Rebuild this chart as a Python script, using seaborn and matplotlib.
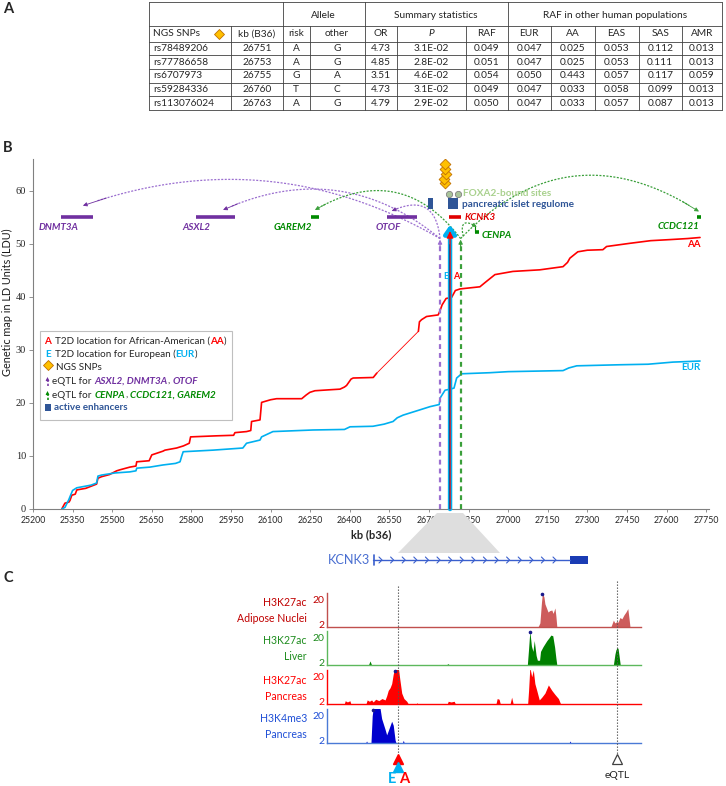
import numpy as np
import matplotlib
matplotlib.use("Agg")
import matplotlib.pyplot as plt
import seaborn as sns
from matplotlib.patches import Rectangle, Polygon

# ---------------- panel A: NGS SNP table ----------------
snp_ids = ["rs78489206", "rs77786658", "rs6707973", "rs59284336", "rs113076024"]
snp_kb = [26751, 26753, 26755, 26760, 26763]
risk_allele = ["A", "A", "G", "T", "A"]
other_allele = ["G", "G", "A", "C", "G"]
odds_ratio = ["4.73", "4.85", "3.51", "4.73", "4.79"]
p_values = ["3.1E-02", "2.8E-02", "4.6E-02", "3.1E-02", "2.9E-02"]
raf = ["0.049", "0.051", "0.054", "0.049", "0.050"]
raf_eur = ["0.047", "0.047", "0.050", "0.047", "0.047"]
raf_aa = ["0.025", "0.025", "0.443", "0.033", "0.033"]
raf_eas = ["0.053", "0.053", "0.057", "0.058", "0.057"]
raf_sas = ["0.112", "0.111", "0.117", "0.099", "0.087"]
raf_amr = ["0.013", "0.013", "0.059", "0.013", "0.013"]
col_heads = ["NGS SNPs", "kb (B36)", "risk", "other", "OR", "P", "RAF",
             "EUR", "AA", "EAS", "SAS", "AMR"]
group_heads = ["Allele", "Summary statistics", "RAF in other human populations"]

# ---------------- panel B: genetic maps (kb, LDU) ----------------
aa_kb = [25309, 25321, 25336, 25340, 25347, 25360, 25366, 25400, 25441, 25446,
         25460, 25490, 25517, 25530, 25567, 25590, 25593, 25640, 25650, 25692,
         25700, 25744, 25770, 25792, 25797, 25896, 25960, 25965, 26009, 26025,
         26028, 26060, 26066, 26100, 26123, 26218, 26235, 26249, 26268, 26330,
         26363, 26380, 26388, 26405, 26413, 26489, 26502, 26660, 26664, 26672,
         26691, 26735, 26742, 26750, 26765, 26786, 26800, 26818, 26893, 26915,
         26945, 26950, 27018, 27120, 27208, 27225, 27234, 27264, 27300, 27359,
         27373, 27461, 27540, 27613, 27680, 27727]
aa_ldu = [0.0, 1.1, 1.3, 1.6, 2.6, 2.8, 3.6, 3.9, 4.7, 5.8,
          6.1, 6.5, 7.2, 7.4, 7.9, 8.1, 8.9, 9.1, 10.2, 10.9,
          11.1, 11.5, 11.9, 12.4, 13.6, 13.8, 13.9, 14.4, 14.6, 14.8,
          16.5, 16.8, 20.1, 20.6, 20.8, 20.8, 21.5, 22.0, 22.3, 22.5,
          22.6, 23.0, 23.3, 24.5, 24.7, 24.8, 25.6, 33.5, 35.3, 35.7,
          36.3, 36.6, 37.4, 38.5, 39.7, 39.9, 41.2, 41.5, 41.9, 42.8,
          44.0, 44.2, 44.8, 45.1, 45.7, 46.5, 47.3, 48.5, 48.8, 48.9,
          49.5, 50.1, 50.6, 50.8, 51.0, 51.2]
aa_gap = (26502, 26660)  # sparse stretch drawn as a thin line
eur_kb = [25309, 25321, 25336, 25340, 25350, 25366, 25420, 25441, 25446, 25460,
          25511, 25567, 25590, 25593, 25643, 25692, 25740, 25757, 25763, 25769,
          25882, 25995, 26009, 26060, 26066, 26109, 26261, 26380, 26401, 26488,
          26530, 26564, 26580, 26602, 26666, 26704, 26739, 26742, 26761, 26780,
          26795, 26805, 26824, 26931, 27000, 27208, 27230, 27260, 27423, 27530,
          27624, 27727]
eur_ldu = [0.0, 0.3, 1.8, 2.3, 3.5, 4.0, 4.5, 4.9, 6.2, 6.4,
           6.8, 7.0, 7.2, 7.7, 7.9, 8.3, 8.6, 8.9, 9.9, 10.8,
           11.1, 11.5, 12.4, 13.0, 13.6, 14.6, 14.9, 15.0, 15.5, 15.6,
           16.0, 16.5, 17.2, 17.7, 18.7, 19.3, 19.7, 20.9, 22.4, 22.6,
           22.8, 24.7, 25.5, 25.7, 25.9, 26.1, 26.6, 27.0, 27.2, 27.3,
           27.7, 27.9]

gene_names = ["DNMT3A", "ASXL2", "GAREM2", "OTOF", "KCNK3", "CENPA", "CCDC121"]
gene_start = [25306, 25817, 26253, 26541, 26776, 26874, 27716]
gene_end = [25426, 25965, 26282, 26653, 26821, 26890, 27730]
gene_ldu = [55.0, 55.0, 55.0, 55.0, 55.0, 52.3, 55.0]
gene_group = ["purple", "purple", "green", "purple", "red", "green", "green"]

t2d_kb = 26780
eqtl_kb = {"purple": 26742, "green": 26820}
eqtl_top_ldu = 50.8
eqtl_targets = ["DNMT3A", "ASXL2", "OTOF", "GAREM2", "CCDC121", "CENPA"]
eqtl_target_kb = [25389, 25920, 26559, 26268, 27723, 26881]
eqtl_target_ldu = [57.2, 56.4, 56.2, 56.4, 56.1, 53.2]

enhancer_start = [26697, 26771]
enhancer_end = [26714, 26811]
enhancer_lo = [56.6, 56.5]
enhancer_hi = [58.7, 58.7]
foxa2_kb = [26776, 26809]
foxa2_ldu = 59.4
diamond_ldu = [61.4, 62.2, 63.1, 64.1, 65.0]

# ---------------- panel C: ChIP-seq tracks (relative position 0-100) ----------------
adipose_u = [0, 66.8, 67.3, 67.8, 68.3, 68.6, 69.1, 69.4, 69.9, 70.4, 70.9, 71.6, 72.0,
             72.6, 72.9, 73.2, 90.4, 91.2, 91.7, 92.3, 92.7, 93.3, 93.9, 94.6, 95.2,
             95.8, 96.2, 96.5, 100]
adipose_val = [0, 0, 0.5, 3, 18, 25, 22, 17, 14, 11, 12, 12.5, 10,
               14, 8, 0, 0, 5, 3, 4, 3.5, 7, 6, 9, 11,
               13.5, 6, 0, 0]
liver_u = [0, 13.2, 13.7, 14.2, 38.0, 38.5, 39.0, 63.8, 64.2, 64.6, 65.1, 65.6, 66.0,
           66.6, 67.0, 67.7, 68.0, 68.8, 69.4, 70.0, 70.7, 71.3, 71.9, 72.5, 72.9,
           73.2, 91.2, 91.7, 92.0, 92.4, 92.7, 93.0, 93.4, 100]
liver_val = [0, 0, 3, 0, 0, 1, 0, 0, 12, 25, 14, 10, 18,
             7, 3.5, 3.5, 10, 13.5, 15.7, 17.9, 20, 22, 21.5, 13, 5,
             0, 0, 8, 11, 13, 12, 7, 0, 0]
pancreas_u = [0, 5.5, 5.8, 6.5, 7.3, 7.6, 12.4, 12.8, 13.5, 14.2, 14.7, 15.5, 16.5,
              17.5, 18.5, 19.0, 19.5, 20.1, 20.6, 21.1, 21.7, 22.7, 23.2, 23.8, 24.5,
              25.4, 25.9, 28.4, 28.6, 28.9, 38.3, 38.6, 39.5, 40.5, 40.9, 53.8, 54.2,
              54.8, 55.2, 58.3, 58.8, 59.3, 63.9, 64.2, 64.6, 65.2, 65.7, 66.2, 66.8,
              67.6, 68.4, 69.4, 70.5, 71.6, 72.6, 73.7, 74.4, 100]
pancreas_val = [0, 0, 2.4, 1.5, 2.4, 0, 0, 3, 2, 3, 1.5, 3.5, 2.5,
                4, 3, 6, 10, 12, 15, 22, 27, 27, 18, 8, 4,
                2, 0, 0, 1, 0, 0, 2, 1.5, 2, 0, 0, 4,
                3.5, 0, 0, 5, 0, 0, 10, 27, 20, 25, 15, 10,
                3, 5, 8, 14, 10, 7, 4, 0, 0]
h3k4_u = [0, 12.3, 12.6, 12.9, 14.0, 14.4, 14.7, 16.9, 17.4, 18.5, 19.0, 19.5, 20.6,
          21.1, 21.7, 22.0, 24.0, 24.3, 24.6, 77.1, 77.4, 77.7, 100]
h3k4_val = [0, 0, 1.5, 0, 0, 20, 25.5, 25.5, 18, 10, 6, 9, 16,
            13, 2, 0, 0, 2, 0, 0, 1.5, 0, 0]
t2d_u = 22.5
eqtl_u = 92.3

# ---------------- figure ----------------
sns.set_theme(style="ticks")
plt.rcParams["font.family"] = ["Lato", "DejaVu Sans"]

W, H = 726, 786
fig = plt.figure(figsize=(W / 100, H / 100), dpi=100)
fig.patch.set_facecolor("white")


def box(x0, y0, x1, y1):
    return [x0 / W, 1 - y1 / H, (x1 - x0) / W, (y1 - y0) / H]


RED, LBLUE = "#ff0000", "#00b0f0"
PURPLE, PURPLE_L = "#7030a0", "#9b6fd0"
GREEN, GREEN_L = "#008a00", "#3a9f3a"
NAVY = "#2f5597"
col = {"purple": PURPLE, "green": GREEN, "red": "#e00000"}

# ----- panel B -----
axB = fig.add_axes(box(33, 159, 709, 509))
axB.patch.set_alpha(0)
axB.set_xlim(25200, 27761)
axB.set_ylim(0, 66)

i0 = aa_kb.index(aa_gap[0])
i1 = aa_kb.index(aa_gap[1])
sns.lineplot(x=aa_kb[:i0 + 1], y=aa_ldu[:i0 + 1], sort=False, estimator=None,
             color=RED, lw=1.2, ax=axB)
sns.lineplot(x=aa_kb[i0:i1 + 1], y=aa_ldu[i0:i1 + 1], sort=False, estimator=None,
             color=RED, lw=0.6, ax=axB)
sns.lineplot(x=aa_kb[i1:], y=aa_ldu[i1:], sort=False, estimator=None,
             color=RED, lw=1.2, ax=axB)
sns.lineplot(x=eur_kb, y=eur_ldu, sort=False, estimator=None, color=LBLUE, lw=1.2, ax=axB)

axB.set_xticks(np.arange(25200, 27751, 150))
axB.set_yticks(np.arange(0, 61, 10))
axB.tick_params(axis="x", labelsize=6.3, length=2, width=0.6, color="#808080", pad=3)
axB.tick_params(axis="y", labelsize=7.5, length=3, width=0.6, color="#808080", pad=2)
for lab in axB.get_yticklabels():
    lab.set_fontfamily("Liberation Serif")
sns.despine(ax=axB)
for s in ["left", "bottom"]:
    axB.spines[s].set_color("#808080")
    axB.spines[s].set_linewidth(0.8)
axB.set_xlabel("kb (b36)", fontsize=8, fontweight="bold", labelpad=3)
axB.set_ylabel("Genetic map in LD Units (LDU)", fontsize=7.8, color="#1a1a1a")
axB.yaxis.set_label_coords(-0.03, 0.59)

# eQTL dashed verticals
for grp, c in [("purple", PURPLE_L), ("green", GREEN_L)]:
    axB.plot([eqtl_kb[grp]] * 2, [0, eqtl_top_ldu - 1], color=c, lw=1.6,
             ls=(0, (2.2, 1.8)), zorder=4)
    axB.annotate("", xy=(eqtl_kb[grp], eqtl_top_ldu), xytext=(eqtl_kb[grp], eqtl_top_ldu - 1.5),
                 arrowprops=dict(arrowstyle="-|>", color=c, lw=0.8, mutation_scale=6,
                                 shrinkA=0, shrinkB=0), zorder=4)

# T2D location arrow
axB.annotate("", xy=(t2d_kb, 53.6), xytext=(t2d_kb, 0),
             arrowprops=dict(arrowstyle="-|>,head_length=0.5,head_width=0.35", color=LBLUE,
                             lw=3.2, mutation_scale=10, shrinkA=0, shrinkB=0), zorder=5)
axB.annotate("", xy=(t2d_kb, 52.4), xytext=(t2d_kb, 0),
             arrowprops=dict(arrowstyle="-|>,head_length=0.4,head_width=0.2", color=RED,
                             lw=0.9, mutation_scale=10, shrinkA=0, shrinkB=0), zorder=6)
axB.plot([t2d_kb - 3] * 2, [0, 50], color="#1f3a7a", lw=0.5, zorder=6)
axB.text(t2d_kb - 8, 43.8, "E", color=LBLUE, fontsize=6.5, fontweight="bold",
         ha="right", va="center", zorder=7)
axB.text(t2d_kb + 12, 43.8, "A", color=RED, fontsize=6.5, fontweight="bold",
         ha="left", va="center", zorder=7)
axB.text(27705, 49.8, "AA", color=RED, fontsize=7, fontweight="bold", ha="center", va="center")
axB.text(27693, 26.6, "EUR", color=LBLUE, fontsize=7, fontweight="bold", ha="center", va="center")

# genes
label_layout = {
    "DNMT3A": (25297, -1.9, "center"), "ASXL2": (25819, -1.9, "center"),
    "GAREM2": (26185, -1.9, "center"), "OTOF": (26545, -1.9, "center"),
    "KCNK3": (26835, 0, "left"), "CENPA": (26900, -0.7, "left"),
    "CCDC121": (27647, -1.8, "center"),
}
for name, x0, x1, y, grp in zip(gene_names, gene_start, gene_end, gene_ldu, gene_group):
    axB.plot([x0, x1], [y, y], color=col[grp], lw=2.6, solid_capstyle="butt", zorder=4)
    lx, dy, ha = label_layout[name]
    axB.text(lx, y + dy, name, color=col[grp], fontsize=7, fontweight="bold",
             fontstyle="italic", ha=ha, va="center", zorder=4)
axB.plot([26874, 26874], [52.3, 53.4], color=GREEN, lw=0.8)

# eQTL arcs
arc_rad = {"DNMT3A": 0.23, "ASXL2": 0.31, "OTOF": 0.7, "GAREM2": 0.44,
           "CCDC121": 0.41, "CENPA": 1.2}
fig.canvas.draw()
for name, tx, ty in zip(eqtl_targets, eqtl_target_kb, eqtl_target_ldu):
    grp = gene_group[gene_names.index(name)]
    c = PURPLE_L if grp == "purple" else GREEN_L
    x0 = eqtl_kb[grp]
    y0 = eqtl_top_ldu + (0.2 if name != "CENPA" else 0.6)
    if name == "CENPA":
        x0 += 10
    p0 = axB.transData.transform((x0, y0))
    p1 = axB.transData.transform((tx, ty))
    d = p1 - p0
    perp = np.array([-d[1], d[0]])
    if perp[1] < 0:
        perp = -perp
    ctrl = (p0 + p1) / 2 + arc_rad[name] * perp
    t = np.linspace(0, 1, 80)[:, None]
    pts = (1 - t) ** 2 * p0 + 2 * (1 - t) * t * ctrl + t ** 2 * p1
    dat = axB.transData.inverted().transform(pts)
    axB.plot(dat[:-3, 0], dat[:-3, 1], color=c, lw=0.9, ls=(0, (1.6, 1.2)), zorder=3)
    axB.annotate("", xy=dat[-1], xytext=dat[-6],
                 arrowprops=dict(arrowstyle="-|>", color=c if grp == "green" else PURPLE,
                                 lw=0.6, mutation_scale=6, shrinkA=0, shrinkB=0), zorder=3)

# regulatory elements
for x0, x1, lo, hi in zip(enhancer_start, enhancer_end, enhancer_lo, enhancer_hi):
    axB.add_patch(Rectangle((x0, lo), x1 - x0, hi - lo, color=NAVY, zorder=4, lw=0))
axB.plot(foxa2_kb, [foxa2_ldu] * 2, "o", ms=4.5, mfc="#a9c49a", mec="#808080", mew=0.6, zorder=5)
axB.text(26828, foxa2_ldu, "FOXA2-bound sites", color="#a9d18e", fontsize=7.2,
         fontweight="bold", ha="left", va="center")
axB.text(26824, 57.4, "pancreatic islet regulome", color=NAVY, fontsize=7.2,
         fontweight="bold", ha="left", va="center")
sns.scatterplot(x=[snp_kb[0] + 8, snp_kb[1] + 4, snp_kb[2] + 8, snp_kb[3], snp_kb[4] - 4],
                y=diamond_ldu, marker="D", s=30, color="#ffc000", edgecolor="#c07000",
                linewidth=0.6, ax=axB, zorder=6, legend=False)

# ----- overlay in figure pixels -----
ov = fig.add_axes([0, 0, 1, 1])
ov.set_xlim(0, W)
ov.set_ylim(H, 0)
ov.axis("off")
ov.patch.set_alpha(0)

for letter, y in [("A", 9), ("B", 148), ("C", 578)]:
    ov.text(3, y, letter, fontsize=10.5, fontweight="bold", va="center", ha="left")

# table
edges = [149, 231, 283, 309.5, 364.5, 397, 465.5, 507.5, 551, 594.5, 638.5, 682, 722]
y_top, y_h1, y_h2, y_bot = 2, 26, 41.5, 110
row_h = (y_bot - y_h2) / len(snp_ids)
lc = dict(color="#404040", lw=0.6)
for y in [y_top, y_h1, y_h2] + [y_h2 + row_h * i for i in range(1, 6)]:
    ov.plot([edges[0], edges[-1]], [y, y], **lc)
full_cols = {0, 2, 4, 7, 12}
for i, x in enumerate(edges):
    ov.plot([x, x], [y_top if i in full_cols else y_h1, y_bot], **lc)
tfs = 7.3
for (a, b), g in zip([(2, 4), (4, 7), (7, 12)], group_heads):
    ov.text((edges[a] + edges[b]) / 2, (y_top + y_h1) / 2 + 1, g, fontsize=tfs,
            ha="center", va="center", color="#222222")
yh = (y_h1 + y_h2) / 2
for i, hname in enumerate(col_heads):
    if i == 0:
        ov.text(edges[0] + 4, yh, hname, fontsize=tfs, ha="left", va="center")
        ov.plot([219], [yh], "D", ms=5.5, mfc="#ffc000", mec="#c07000", mew=0.6)
    else:
        ov.text((edges[i] + edges[i + 1]) / 2, yh, hname, fontsize=tfs, ha="center",
                va="center", fontstyle="italic" if hname == "P" else "normal")
cols = [snp_ids, [str(k) for k in snp_kb], risk_allele, other_allele, odds_ratio,
        p_values, raf, raf_eur, raf_aa, raf_eas, raf_sas, raf_amr]
for r in range(len(snp_ids)):
    yc = y_h2 + row_h * (r + 0.5)
    for i, values in enumerate(cols):
        if i == 0:
            ov.text(edges[0] + 4, yc, values[r], fontsize=tfs, ha="left", va="center")
        else:
            ov.text((edges[i] + edges[i + 1]) / 2, yc, values[r], fontsize=tfs,
                    ha="center", va="center")

# legend box in panel B
ov.add_patch(Rectangle((40, 331), 192, 89, fc="white", ec="#bfbfbf", lw=0.8))
renderer = fig.canvas.get_renderer()
lfs = 7.1


def rich(x, y, pieces):
    for s, kw, gap in pieces:
        t = ov.text(x, y, s, fontsize=lfs, va="center", ha="left", **kw)
        x += t.get_window_extent(renderer).width + gap


bi = dict(fontweight="bold", fontstyle="italic")
rich(44.5, 341.5, [("A", dict(color=RED, fontweight="bold"), 3.5),
                   ("T2D location for African-American (", {}, 0),
                   ("AA", dict(color=RED, fontweight="bold"), 0), (")", {}, 0)])
rich(45, 354.5, [("E", dict(color=LBLUE, fontweight="bold"), 4),
                 ("T2D location for European (", {}, 0),
                 ("EUR", dict(color=LBLUE, fontweight="bold"), 0), (")", {}, 0)])
ov.plot([47.5], [364.5], "D", ms=5.2, mfc="#ffc000", mec="#c07000", mew=0.6)
rich(56, 368, [("NGS SNPs", {}, 0)])
for y, c in [(381, PURPLE), (395, GREEN)]:
    ov.plot([47.5, 47.5], [y + 5, y], color=c, lw=1.1, ls=(0, (1.5, 1.2)))
    ov.annotate("", xy=(47.5, y - 4), xytext=(47.5, y),
                arrowprops=dict(arrowstyle="-|>", color=c, lw=0.6, mutation_scale=5,
                                shrinkA=0, shrinkB=0))
rich(52, 381.5, [("eQTL for", {}, 3), ("ASXL2, DNMT3A", dict(color=PURPLE, **bi), 0),
                 (",", {}, 3), ("OTOF", dict(color=PURPLE, **bi), 0)])
rich(52, 395, [("eQTL for", {}, 3), ("CENPA", dict(color=GREEN, **bi), 0),
               (",", {}, 3), ("CCDC121, GAREM2", dict(color=GREEN, **bi), 0)])
ov.add_patch(Rectangle((44.5, 404), 6.5, 6.5, color=NAVY, lw=0))
rich(53.5, 407.5, [("active enhancers", dict(color=NAVY, fontweight="bold"), 0)])

# zoom trapezoid and KCNK3 gene model
ov.add_patch(Polygon([(437, 513), (463, 513), (500, 553), (398, 553)],
                     closed=True, fc="#dedede", ec="none", zorder=1))
gene_y = 560
ov.text(370, gene_y, "KCNK3", color="#4a6fd1", fontsize=9.2, ha="right", va="center")
ov.plot([373, 570], [gene_y, gene_y], color="#3a5fcd", lw=1)
ov.plot([373.5, 373.5], [gene_y - 5, gene_y + 5], color="#3a5fcd", lw=1.2)
for cx in np.arange(381, 566, 11.6):
    ov.plot([cx - 2, cx + 1, cx - 2], [gene_y - 3, gene_y, gene_y + 3], color="#3a5fcd", lw=0.8)
ov.add_patch(Rectangle((570, gene_y - 4), 18, 8, color="#1a3cb4", lw=0))

# ----- panel C tracks -----
tracks = [
    ("H3K27ac", "Adipose Nuclei", adipose_u, adipose_val, 627, "#cd5c5c", "#c0504d", "#c00000"),
    ("H3K27ac", "Liver", liver_u, liver_val, 665, "#008000", "#5cb85c", "#1e8c1e"),
    ("H3K27ac", "Pancreas", pancreas_u, pancreas_val, 704, "#ff0000", "#ff0000", "#ff0000"),
    ("H3K4me3", "Pancreas", h3k4_u, h3k4_val, 743, "#0000cd", "#4a7ad6", "#1f4fd6"),
]
for mark, tissue, u, v, base, fillc, spc, txtc in tracks:
    ax = fig.add_axes(box(327, base - 34, 641, base))
    ax.patch.set_alpha(0)
    ax.fill_between(u, v, color=fillc, lw=0)
    ax.set_xlim(0, 100)
    ax.set_ylim(0, 25)
    ax.set_xticks([])
    ax.set_yticks([2, 20])
    ax.set_yticklabels(["2", "20"])
    ax.tick_params(axis="y", length=0, labelsize=7.5, labelcolor=txtc, pad=2)
    sns.despine(ax=ax)
    for s in ["left", "bottom"]:
        ax.spines[s].set_color(spc)
        ax.spines[s].set_linewidth(1.0)
    vv = np.array(v)
    for pu in np.array(u)[vv >= 24.5][:1]:
        ax.plot([pu], [24.6], "o", ms=1.6, color="#1a1a8c", clip_on=False)
    ov.text(307, base - 24, mark, color=txtc, fontsize=7.6, ha="right", va="center")
    ov.text(307, base - 8, tissue, color=txtc, fontsize=7.6, ha="right", va="center")

ovc = fig.add_axes(box(327, 575, 641, 786))
ovc.set_xlim(0, 100)
ovc.set_ylim(786, 575)
ovc.axis("off")
ovc.patch.set_alpha(0)
ovc.plot([t2d_u, t2d_u], [586, 754], color="#555555", lw=0.8, ls=(0, (1.2, 1.5)))
ovc.plot([eqtl_u, eqtl_u], [581, 754], color="#555555", lw=0.8, ls=(0, (1.2, 1.5)))
ovc.plot([t2d_u], [759], "^", ms=7, color=RED)
ovc.plot([t2d_u], [767.5], "^", ms=7, color=LBLUE)
ovc.text(t2d_u - 0.6, 779, "E", color=LBLUE, fontsize=10.5, fontweight="bold", ha="right", va="center")
ovc.text(t2d_u + 0.6, 779, "A", color=RED, fontsize=10.5, fontweight="bold", ha="left", va="center")
ovc.plot([eqtl_u], [759], "^", ms=7, mfc="white", mec="#404040", mew=0.9)
ovc.text(eqtl_u, 776, "eQTL", color="#222222", fontsize=7.5, ha="center", va="center")

fig.savefig("out.png", dpi=100)
